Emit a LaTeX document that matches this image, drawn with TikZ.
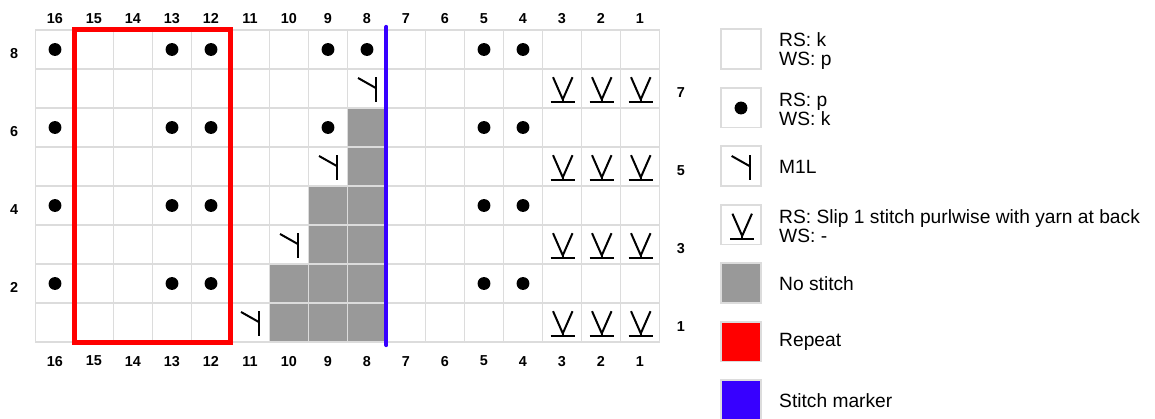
\documentclass[tikz,border=0pt]{standalone}
\usepackage{fontspec}
\setmainfont{Liberation Sans}

\definecolor{gridgray}{RGB}{220,220,220}
\definecolor{nostitch}{RGB}{153,153,153}
\definecolor{repeatred}{RGB}{255,0,0}
\definecolor{markerblue}{RGB}{55,0,255}

\tikzset{
	gridline/.style={draw=gridgray,line width=0.8pt},
	symline/.style={draw=black,line width=1pt},
	numlabel/.style={inner sep=0pt,font=\fontsize{7.2}{8}\selectfont\bfseries},
	keytext/.style={inner sep=0pt,anchor=west,align=left,font=\fontsize{9.6}{9.4}\selectfont},
	keybox/.style={gridline,minimum size=0pt}
}

% symbols, drawn in the cell whose lower left corner is (#1,#2)
\newcommand{\purldot}[2]{\fill[black] (#1+0.5,#2+0.5) circle (0.165);}
\newcommand{\mlsym}[2]{\begin{scope}[shift={(#1,#2)}]
	\draw[symline] (0.27,0.77) -- (0.73,0.51);
	\draw[symline] (0.73,0.79) -- (0.73,0.15);
\end{scope}}
\newcommand{\slipsym}[2]{\begin{scope}[shift={(#1,#2)}]
	\draw[symline] (0.27,0.79) -- (0.52,0.22) -- (0.77,0.79);
	\draw[symline] (0.52,0.22) -- (0.52,0.15);
	\draw[symline] (0.21,0.15) -- (0.83,0.15);
\end{scope}}

\begin{document}
\begin{tikzpicture}[x=19.5pt,y=19.5pt]
	\useasboundingbox (-0.91,-1.974) rectangle (28.705,8.769);

	% no stitch cells
	\fill[nostitch] (8,0) rectangle (9,6);
	\fill[nostitch] (7,0) rectangle (8,4);
	\fill[nostitch] (6,0) rectangle (7,2);
	\foreach \i in {0,...,16}
		\draw[gridline] (\i,0) -- (\i,8);
	\foreach \j in {0,...,8}
		\draw[gridline] (0,\j) -- (16,\j);

	% purl rows
	\foreach \c in {16,13,12,5,4}
		\foreach \r in {2,4,6,8}
			\purldot{16-\c}{\r-1};
	\purldot{16-9}{7}
	\purldot{16-8}{7}
	\purldot{16-9}{5}

	% increases
	\mlsym{16-8}{6}
	\mlsym{16-9}{4}
	\mlsym{16-10}{2}
	\mlsym{16-11}{0}

	% slipped edge stitches
	\foreach \c in {1,2,3}
		\foreach \r in {1,3,5,7}
			\slipsym{16-\c}{\r-1};

	% repeat and marker
	\draw[repeatred,line width=2.5pt] (1,0) rectangle (5,8);
	\draw[markerblue,line width=2pt,line cap=round] (9,-0.08) -- (9,8.08);

	% numbering
	\foreach \c in {1,...,16} {
		\node[numlabel] (top\c) at (16-\c+0.5,8.3) {\c};
		\node[numlabel] (bot\c) at (16-\c+0.5,-0.49) {\c};
	}
	\foreach \r in {2,4,6,8}
		\node[numlabel] (row\r) at (-0.55,\r-0.6) {\r};
	\foreach \r in {1,3,5,7}
		\node[numlabel] (row\r) at (16.55,\r-0.6) {\r};

	% key
	\draw[keybox] (17.58,7) rectangle ++(1.02,1.02);
	\node[keytext] (keyk) at (19.06,7.47) {RS: k\\WS: p};

	\draw[keybox] (17.58,5.5) rectangle ++(1.02,1.02);
	\fill[black] (18.09,6.0) circle (0.165);
	\node[keytext] (keyp) at (19.06,5.97) {RS: p\\WS: k};

	\draw[keybox] (17.58,4) rectangle ++(1.02,1.02);
	\mlsym{17.58}{4}
	\node[keytext] (keyml) at (19.06,4.5) {M1L};

	\draw[keybox] (17.58,2.5) rectangle ++(1.02,1.02);
	\slipsym{17.6}{2.5}
	\node[keytext] (keysl) at (19.06,2.97) {RS: Slip 1 stitch purlwise with yarn at back\\WS: -};

	\draw[keybox,fill=nostitch] (17.58,1) rectangle ++(1.02,1.02);
	\node[keytext] (keyns) at (19.06,1.5) {No stitch};

	\draw[keybox,fill=repeatred] (17.58,-0.5) rectangle ++(1.02,1.02);
	\node[keytext] (keyrep) at (19.06,0) {Repeat};

	\draw[keybox,fill=markerblue] (17.58,-2) rectangle ++(1.02,1.02);
	\node[keytext] (keymk) at (19.06,-1.5) {Stitch marker};
\end{tikzpicture}
\end{document}
